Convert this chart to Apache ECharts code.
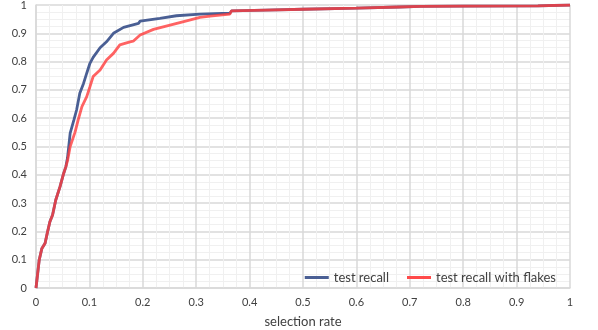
<!DOCTYPE html>
<html>
<head>
<meta charset="utf-8">
<script src="https://cdn.jsdelivr.net/npm/echarts@6/dist/echarts.min.js"></script>
<style>
  html, body { margin: 0; padding: 0; background: #fff; }
  #chart { width: 598px; height: 330px; }
</style>
</head>
<body>
<div id="chart"></div>
<script>
// selection rate (x) / recall (y)
var recallX = [0, 0.006, 0.011, 0.017, 0.021, 0.026, 0.031, 0.037, 0.045, 0.051, 0.056, 0.059, 0.064, 0.071, 0.076, 0.082, 0.089, 0.095, 0.101, 0.107, 0.12, 0.132, 0.145, 0.164, 0.192, 0.195, 0.232, 0.263, 0.307, 0.363, 0.366, 0.43, 0.5, 0.6, 0.68, 0.72, 0.8, 0.94, 0.942, 1];
var recallY = [0, 0.099, 0.14, 0.158, 0.193, 0.234, 0.258, 0.311, 0.358, 0.40, 0.429, 0.46, 0.547, 0.594, 0.629, 0.688, 0.723, 0.759, 0.794, 0.815, 0.849, 0.87, 0.9, 0.921, 0.935, 0.943, 0.953, 0.962, 0.968, 0.971, 0.979, 0.982, 0.985, 0.989, 0.993, 0.995, 0.996, 0.997, 1, 1];

var flakesX = [0, 0.006, 0.011, 0.017, 0.021, 0.026, 0.031, 0.037, 0.045, 0.051, 0.056, 0.059, 0.064, 0.073, 0.079, 0.086, 0.095, 0.101, 0.107, 0.12, 0.132, 0.145, 0.157, 0.176, 0.182, 0.195, 0.22, 0.251, 0.282, 0.307, 0.326, 0.363, 0.366, 0.43, 0.5, 0.6, 0.68, 0.72, 0.8, 0.94, 0.942, 1];
var flakesY = [0, 0.099, 0.14, 0.158, 0.193, 0.234, 0.258, 0.311, 0.358, 0.40, 0.429, 0.45, 0.50, 0.55, 0.594, 0.641, 0.676, 0.711, 0.747, 0.77, 0.806, 0.829, 0.859, 0.87, 0.872, 0.894, 0.914, 0.929, 0.944, 0.956, 0.961, 0.968, 0.979, 0.982, 0.985, 0.989, 0.993, 0.995, 0.996, 0.997, 1, 1];

var seriesNames = ['test recall', 'test recall with flakes'];

function pairs(xs, ys) {
    var out = [];
    for (var i = 0; i < xs.length; i++) {
        out.push([xs[i], ys[i]]);
    }
    return out;
}

var FONT = 'Lato, "Open Sans", sans-serif';
var gridMajor = '#d9d9d9';
var gridMinor = '#f0f0f0';

var valueAxis = {
    type: 'value',
    min: 0,
    max: 1,
    interval: 0.1,
    axisLine: { show: true, lineStyle: { color: gridMajor, width: 1.5 } },
    axisTick: { show: false },
    splitLine: { show: true, lineStyle: { color: gridMajor, width: 1.5 } },
    minorTick: { show: false, splitNumber: 4 },
    minorSplitLine: { show: true, lineStyle: { color: gridMinor, width: 1 } }
};

var option = {
    animation: false,
    backgroundColor: '#fff',
    grid: { left: 36, right: 28, top: 5, bottom: 42, outerBoundsMode: 'none' },
    legend: {
        right: 37,
        top: 266,
        itemWidth: 24,
        itemHeight: 3,
        itemGap: 18,
        icon: 'rect',
        textStyle: { color: '#404040', fontSize: 13, fontFamily: FONT },
        data: seriesNames
    },
    xAxis: Object.assign({}, valueAxis, {
        name: 'selection rate',
        nameLocation: 'middle',
        nameGap: 27,
        nameTextStyle: { color: '#404040', fontSize: 13, fontFamily: FONT },
        axisLabel: { color: '#404040', fontSize: 11, fontFamily: FONT, margin: 9 }
    }),
    yAxis: Object.assign({}, valueAxis, {
        axisLabel: { color: '#404040', fontSize: 11, fontFamily: FONT, margin: 9 }
    }),
    series: [
        {
            name: seriesNames[0],
            type: 'line',
            symbol: 'none',
            color: '#4a5f94',
            lineStyle: { width: 2.8, color: '#4a5f94' },
            data: pairs(recallX, recallY)
        },
        {
            name: seriesNames[1],
            type: 'line',
            symbol: 'none',
            color: '#ff4a4a',
            lineStyle: { width: 2.8, color: 'rgba(255,60,60,0.8)' },
            data: pairs(flakesX, flakesY)
        }
    ]
};

var myChart = echarts.init(document.getElementById('chart'));
myChart.setOption(option);
</script>
</body>
</html>
